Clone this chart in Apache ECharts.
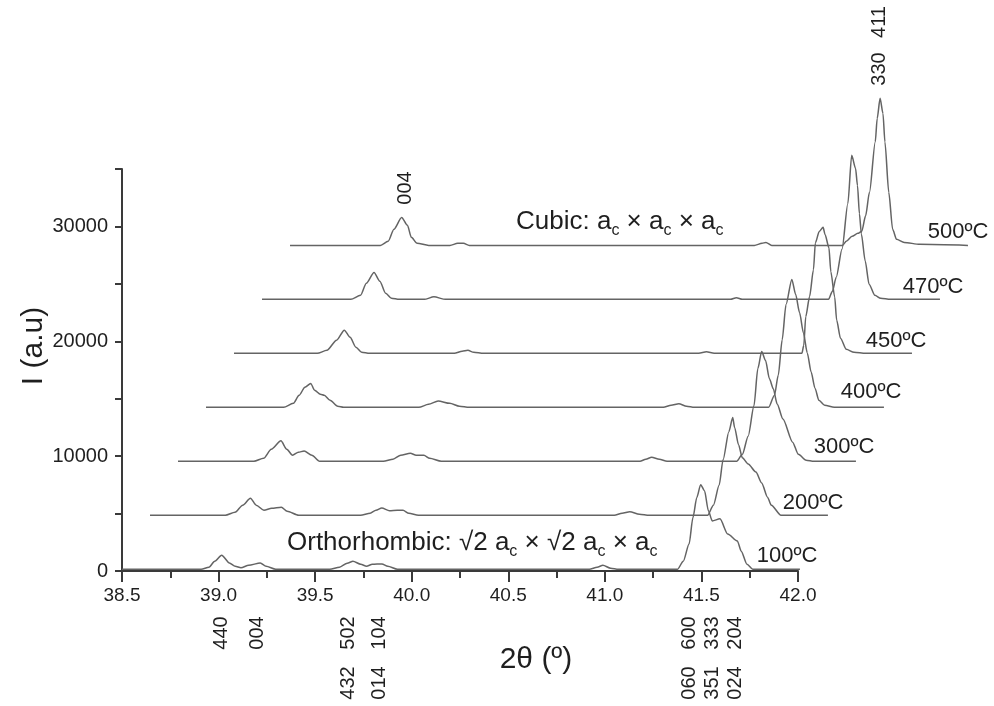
<!DOCTYPE html>
<html>
<head>
<meta charset="utf-8">
<script src="https://cdn.jsdelivr.net/npm/echarts@6/dist/echarts.min.js"></script>
<style>
  html, body { margin: 0; padding: 0; background: #ffffff; }
  #chart { width: 994px; height: 706px; }
</style>
</head>
<body>
<div id="chart"></div>
<script>
// Temperature of each in-situ XRD scan, bottom to top
const temperatures = ['100ºC', '200ºC', '300ºC', '400ºC', '450ºC', '470ºC', '500ºC'];

// Waterfall offsets applied to each scan (2θ shift, intensity shift)
const xShift = [0, 0.145, 0.29, 0.435, 0.58, 0.725, 0.87];
const yShift = [0, 4700, 9400, 14100, 18800, 23500, 28200];

// Measured patterns: [2θ (º), intensity (a.u.)]
const pattern100 = [[38.50,150],[38.91,150],[38.95,330],[38.98,850],[39.016,1380],[39.056,700],[39.086,410],[39.116,280],[39.156,500],[39.216,700],[39.246,410],[39.296,150],[39.576,150],[39.626,330],[39.666,680],[39.696,850],[39.736,590],[39.766,410],[39.796,590],[39.846,620],[39.876,410],[39.926,150],[40.92,150],[40.96,330],[40.99,500],[41.03,240],[41.07,150],[41.376,150],[41.406,850],[41.436,2340],[41.456,4650],[41.476,6400],[41.496,7520],[41.516,6990],[41.536,5240],[41.556,4360],[41.596,4540],[41.636,3220],[41.686,2610],[41.706,1730],[41.736,590],[41.766,150],[42.01,150]];
const pattern200 = [[38.50,150],[38.89,150],[38.94,410],[38.98,1030],[39.02,1640],[39.05,1030],[39.09,590],[39.13,760],[39.18,850],[39.21,500],[39.27,150],[39.59,150],[39.64,330],[39.67,590],[39.70,790],[39.74,550],[39.78,580],[39.81,580],[39.84,330],[39.89,150],[40.904,150],[40.944,330],[40.984,460],[41.034,240],[41.084,150],[41.387,150],[41.417,1030],[41.447,2780],[41.467,4980],[41.497,7430],[41.517,8660],[41.527,7780],[41.547,6290],[41.567,5150],[41.597,4620],[41.637,3920],[41.667,2960],[41.697,1730],[41.717,1030],[41.767,150],[42.01,150]];
const pattern300 = [[38.50,150],[38.893,150],[38.943,410],[38.983,1200],[39.033,1930],[39.063,1200],[39.093,680],[39.123,940],[39.153,1050],[39.193,680],[39.233,150],[39.563,150],[39.613,330],[39.653,680],[39.703,850],[39.733,680],[39.773,680],[39.803,410],[39.863,150],[40.892,150],[40.922,330],[40.952,500],[40.992,330],[41.032,150],[41.392,150],[41.422,760],[41.452,2340],[41.482,4980],[41.502,8220],[41.522,9710],[41.542,8920],[41.562,7340],[41.582,6470],[41.602,5150],[41.632,3830],[41.682,1820],[41.712,760],[41.752,240],[41.792,150],[42.01,150]];
const pattern400 = [[38.50,150],[38.902,150],[38.952,500],[38.982,1200],[39.012,1900],[39.042,2230],[39.062,1640],[39.092,1290],[39.112,1200],[39.142,760],[39.182,240],[39.212,150],[39.602,150],[39.652,410],[39.702,700],[39.762,500],[39.812,240],[39.862,150],[40.868,150],[40.908,330],[40.948,460],[40.988,240],[41.028,150],[41.413,150],[41.443,1200],[41.463,2960],[41.483,6030],[41.503,9100],[41.533,11290],[41.553,9970],[41.573,8400],[41.593,6640],[41.613,4890],[41.633,3220],[41.653,1820],[41.673,760],[41.703,330],[41.753,150],[42.01,150]];
const pattern450 = [[38.50,150],[38.931,150],[38.981,410],[39.031,1290],[39.071,2170],[39.101,1550],[39.131,680],[39.161,240],[39.201,150],[39.641,150],[39.681,330],[39.711,410],[39.741,240],[39.791,150],[40.906,150],[40.946,280],[40.986,150],[41.44,150],[41.45,850],[41.46,3330],[41.48,5090],[41.50,7430],[41.51,9770],[41.53,10760],[41.55,11120],[41.56,10500],[41.58,9360],[41.59,7260],[41.61,5060],[41.62,3050],[41.64,1470],[41.67,500],[41.71,240],[41.77,150],[42.01,150]];
const pattern470 = [[38.50,150],[38.96,150],[39.01,500],[39.04,1550],[39.08,2490],[39.11,1730],[39.14,680],[39.17,240],[39.21,150],[39.34,150],[39.39,370],[39.45,150],[40.926,150],[40.956,300],[40.986,150],[41.433,150],[41.453,850],[41.473,2080],[41.503,4540],[41.533,8480],[41.553,12690],[41.573,11550],[41.583,10060],[41.593,7610],[41.603,5850],[41.623,3480],[41.643,1470],[41.673,500],[41.703,240],[41.753,150],[42.01,150]];
const pattern500 = [[38.50,150],[38.968,150],[39.008,500],[39.038,1550],[39.078,2580],[39.108,1900],[39.128,850],[39.158,330],[39.218,150],[39.328,150],[39.368,330],[39.398,330],[39.428,150],[40.904,150],[40.944,330],[40.964,410],[40.994,150],[41.36,150],[41.38,500],[41.41,940],[41.44,1200],[41.46,1380],[41.48,2720],[41.50,4770],[41.53,9160],[41.54,11200],[41.555,12960],[41.57,11640],[41.58,9160],[41.60,4770],[41.62,1550],[41.64,680],[41.68,410],[41.76,240],[42.01,150]];

const patterns = [pattern100, pattern200, pattern300, pattern400, pattern450, pattern470, pattern500];

// Reflection indices marked under the axis and above the top scan
const hklOrthoUpper = ['440', '004', '502', '104', '600', '333', '204'];
const hklOrthoLower = ['432', '014', '060', '351', '024'];
const hklCubic = ['004', '330', '411'];

const FONT = '"Liberation Sans", Arial, Helvetica, sans-serif';
const TEXT = '#1f1f1f';
const LINE = '#646464';
const AXIS = '#3a3a3a';

// Visible frame: 2θ 38.5–42.0, I 0–35000.  The offset scans run past it,
// so they are drawn on a second, hidden grid with the same pixel scale
// but a wider extent (38.5–43.0, 0–42000).
const PLOT_LEFT = 122, PLOT_TOP = 169, PLOT_W = 676, PLOT_H = 402;
const X_MIN = 38.5, X_MAX = 42.0, Y_MAX = 35000;
const X_MAX_WIDE = 43.0, Y_MAX_WIDE = 42000;
const pxPerX = PLOT_W / (X_MAX - X_MIN);
const pxPerY = PLOT_H / Y_MAX;
const wideW = (X_MAX_WIDE - X_MIN) * pxPerX;
const wideH = Y_MAX_WIDE * pxPerY;
const plotBottom = PLOT_TOP + PLOT_H;

const chart = echarts.init(document.getElementById('chart'), null, { renderer: 'canvas' });

const series = patterns.map((p, i) => ({
  name: temperatures[i],
  type: 'line',
  xAxisIndex: 1,
  yAxisIndex: 1,
  data: p.map(([t, v]) => [t + xShift[i], v + yShift[i]]),
  showSymbol: false,
  smooth: 0.25,
  smoothMonotone: 'x',
  clip: false,
  silent: true,
  lineStyle: { color: LINE, width: 1.5 },
  z: 2
}));

function plain(x, y, text, size, extra) {
  return Object.assign({
    type: 'text', x: x, y: y, silent: true,
    style: { text: text, fontSize: size, fontFamily: FONT, fill: TEXT, align: 'center', verticalAlign: 'middle' }
  }, extra || {});
}
function vertical(x, y, text, size) {
  return plain(x, y, text, size, { rotation: Math.PI / 2 });
}
const richStyles = {
  n: { fontSize: 26, fontFamily: FONT, fill: TEXT, lineHeight: 34, verticalAlign: 'middle' },
  s: { fontSize: 16, fontFamily: FONT, fill: TEXT, lineHeight: 16, verticalAlign: 'bottom' }
};

const tempLabelPos = [[787, 556], [813, 503], [844, 447], [871, 392], [896, 341], [933, 287], [958, 232]];

const graphics = [];
temperatures.forEach((t, i) => graphics.push(plain(tempLabelPos[i][0], tempLabelPos[i][1], t, 22)));

// orthorhombic indices below the 2θ axis
const upperX = [221, 257, 348, 379, 689, 712, 735];
hklOrthoUpper.forEach((h, i) => graphics.push(vertical(upperX[i], 633, h, 20)));
const lowerX = [348, 379, 689, 712, 735];
hklOrthoLower.forEach((h, i) => graphics.push(vertical(lowerX[i], 683, h, 20)));

// cubic indices above the 500ºC scan
graphics.push(vertical(405, 188, hklCubic[0], 20));
graphics.push(vertical(879, 69, hklCubic[1], 20));
graphics.push(vertical(879, 22, hklCubic[2], 20));

// phase annotations
graphics.push({
  type: 'text', x: 516, y: 222, silent: true,
  style: {
    text: '{n|Cubic: a}{s|c}{n| × a}{s|c}{n| × a}{s|c}',
    rich: richStyles, align: 'left', verticalAlign: 'middle'
  }
});
graphics.push({
  type: 'text', x: 287, y: 543, silent: true,
  style: {
    text: '{n|Orthorhombic: √2 a}{s|c}{n| × √2 a}{s|c}{n| × a}{s|c}',
    rich: richStyles, align: 'left', verticalAlign: 'middle'
  }
});

// axis titles
graphics.push(plain(536, 660, '2θ (º)', 30));
graphics.push(vertical(34, 346, 'I (a.u)', 30));

chart.setOption({
  animation: false,
  backgroundColor: '#ffffff',
  grid: [
    { left: PLOT_LEFT, top: PLOT_TOP, width: PLOT_W, height: PLOT_H, containLabel: false },
    { left: PLOT_LEFT, top: plotBottom - wideH, width: wideW, height: wideH, containLabel: false }
  ],
  xAxis: [
    {
      type: 'value',
      gridIndex: 0,
      min: X_MIN,
      max: X_MAX,
      interval: 0.5,
      axisLine: { show: true, onZero: false, lineStyle: { color: AXIS, width: 2 } },
      axisTick: { show: true, inside: false, length: 11, lineStyle: { color: AXIS, width: 2 } },
      minorTick: { show: true, splitNumber: 2, length: 7, lineStyle: { color: AXIS, width: 2 } },
      axisLabel: { formatter: v => v.toFixed(1), fontSize: 19, fontFamily: FONT, color: TEXT, margin: 15 },
      splitLine: { show: false },
      minorSplitLine: { show: false }
    },
    {
      type: 'value', gridIndex: 1, min: X_MIN, max: X_MAX_WIDE, show: false,
      splitLine: { show: false }
    }
  ],
  yAxis: [
    {
      type: 'value',
      gridIndex: 0,
      min: 0,
      max: Y_MAX,
      interval: 5000,
      axisLine: { show: true, onZero: false, lineStyle: { color: AXIS, width: 2 } },
      axisTick: { show: true, inside: false, length: 7, lineStyle: { color: AXIS, width: 2 } },
      axisLabel: {
        formatter: v => (v % 10000 === 0 ? String(v) : ''),
        fontSize: 20, fontFamily: FONT, color: TEXT, margin: 14
      },
      splitLine: { show: false }
    },
    {
      type: 'value', gridIndex: 1, min: 0, max: Y_MAX_WIDE, show: false,
      splitLine: { show: false }
    }
  ],
  series: series,
  graphic: graphics
});
</script>
</body>
</html>
